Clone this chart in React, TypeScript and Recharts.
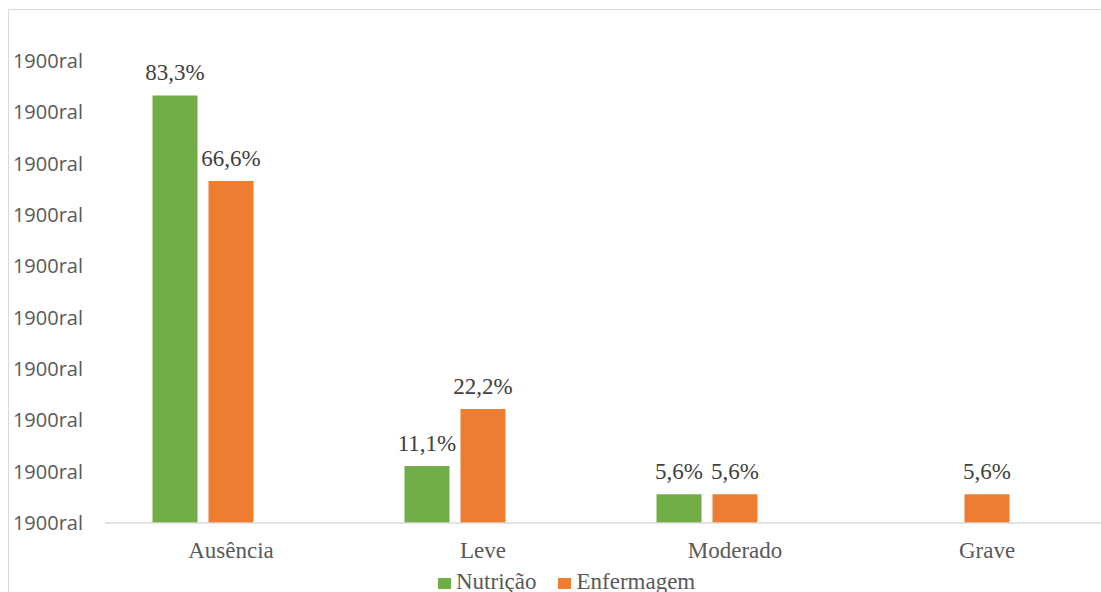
import { Bar, BarChart, LabelList, Legend, XAxis, YAxis } from "recharts";

const categories = ["Ausência", "Leve", "Moderado", "Grave"];
const nutricao = [83.3, 11.1, 5.6, null];
const enfermagem = [66.6, 22.2, 5.6, 5.6];
const yTicks = [0, 10, 20, 30, 40, 50, 60, 70, 80, 90];
const yTickLabel = "1900ral";

const data = categories.map((name, i) => ({
  name,
  nutricao: nutricao[i],
  enfermagem: enfermagem[i],
  pad: null,
}));

const serif = "'Liberation Serif', serif";

const fmt = (v: unknown) => `${Number(v).toFixed(1).replace(".", ",")}%`;

// label drawn above the bar, baseline 15px over the top
const BarLabel = (props: any) => {
  const { x, y, width, value } = props;
  if (value == null) return null;
  return (
    <text
      x={Number(x) + Number(width) / 2}
      y={Number(y) - 15}
      textAnchor="middle"
      style={{ fontFamily: serif, fontSize: 23, fill: "#404040" }}
    >
      {fmt(value)}
    </text>
  );
};

const legendItems = [
  { label: "Nutrição", color: "#70AD47" },
  { label: "Enfermagem", color: "#ED7D31" },
];

const LegendContent = () => (
  <div
    style={{
      fontFamily: serif,
      fontSize: 23,
      color: "#595959",
      whiteSpace: "nowrap",
    }}
  >
    {legendItems.map((it, i) => (
      <span key={it.label} style={{ marginRight: i === 0 ? 22 : 0 }}>
        <span
          style={{
            display: "inline-block",
            width: 13,
            height: 11,
            background: it.color,
            marginRight: 5,
          }}
        />
        {it.label}
      </span>
    ))}
  </div>
);

export default function App() {
  return (
    <div
      style={{
        position: "fixed",
        left: 0,
        top: 0,
        right: 0,
        bottom: 0,
        overflow: "hidden",
        background: "#fff",
      }}
    >
      <div
        style={{
          position: "absolute",
          top: 9,
          left: 8,
          right: -10,
          bottom: -10,
          borderTop: "1px solid #d9d9d9",
          borderLeft: "1px solid #d9d9d9",
        }}
      />
      <div style={{ position: "absolute", top: 8, left: 8 }}>
        <BarChart
          width={1110}
          height={600}
          data={data}
          margin={{ top: 53, right: 5, left: 0, bottom: 35 }}
          barCategoryGap={47.5}
          barGap={11}
        >
          <XAxis
            dataKey="name"
            height={50}
            axisLine={{ stroke: "#d9d9d9", strokeWidth: 1.5 }}
            tickLine={false}
            tickSize={0}
            tickMargin={19}
            tick={{ fontFamily: serif, fontSize: 23, fill: "#595959" }}
            interval={0}
          />
          <YAxis
            width={97}
            domain={[0, 90]}
            ticks={yTicks}
            tickFormatter={() => yTickLabel}
            axisLine={false}
            tickLine={false}
            tickSize={0}
            tickMargin={22}
            tick={{ fontFamily: "Open Sans", fontSize: 20, fill: "#595959" }}
            interval={0}
          />
          <Legend
            verticalAlign="middle"
            align="center"
            layout="horizontal"
            content={<LegendContent />}
            wrapperStyle={{ top: 561, left: 430, width: "auto" }}
          />
          <Bar dataKey="nutricao" name="Nutrição" fill="#70AD47" isAnimationActive={false}>
            <LabelList dataKey="nutricao" content={BarLabel} />
          </Bar>
          <Bar dataKey="enfermagem" name="Enfermagem" fill="#ED7D31" isAnimationActive={false}>
            <LabelList dataKey="enfermagem" content={BarLabel} />
          </Bar>
          <Bar dataKey="pad" legendType="none" fill="transparent" isAnimationActive={false} />
        </BarChart>
      </div>
    </div>
  );
}
